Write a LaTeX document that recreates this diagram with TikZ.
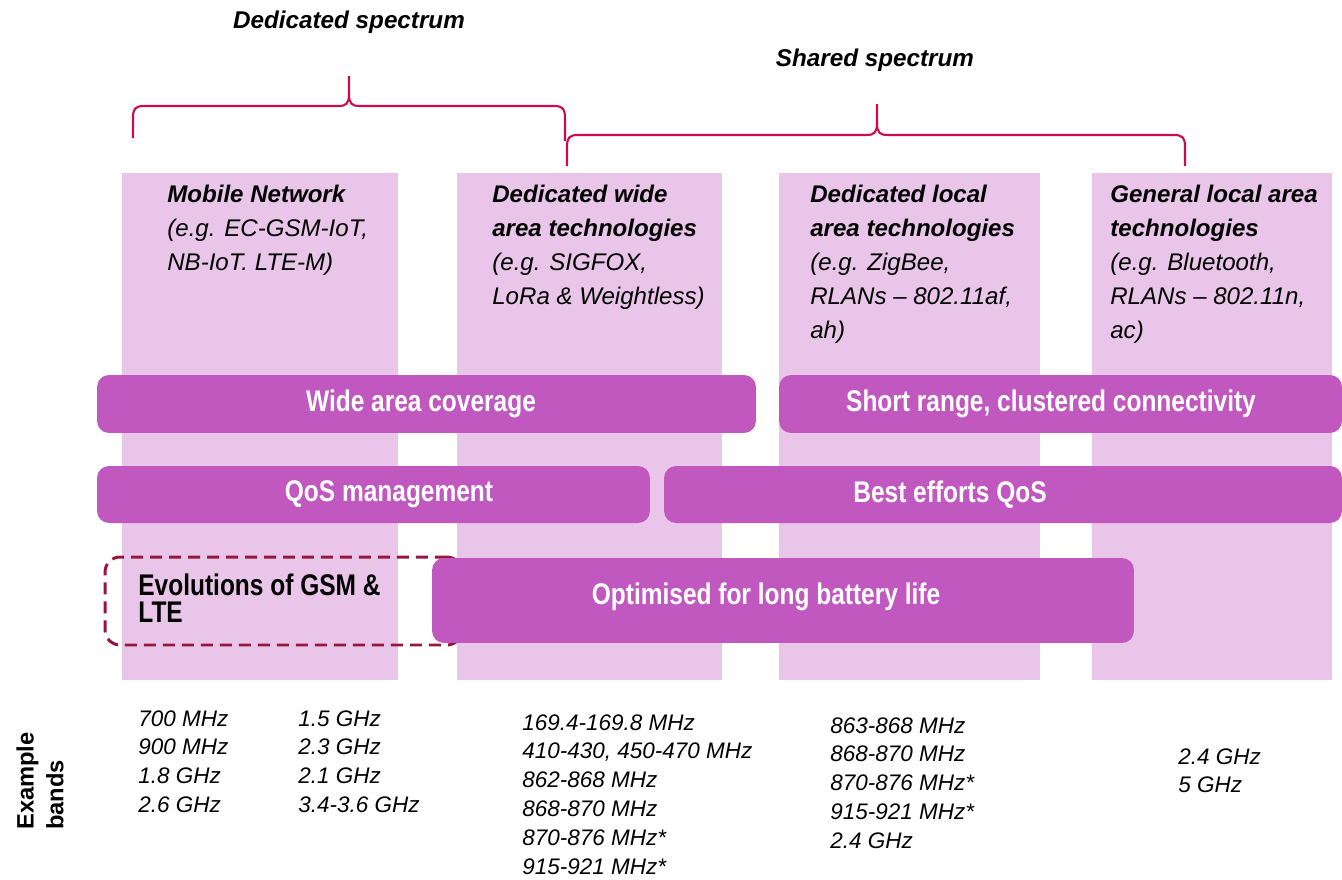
\documentclass[tikz,border=0pt]{standalone}
\usepackage{fontspec}
\setmainfont{Liberation Sans}
\newfontfamily\narrowfont[FakeStretch=0.82]{Liberation Sans}
\usepackage{tikz}
\usetikzlibrary{positioning}
\usepackage{xcolor}
\definecolor{colpink}{RGB}{233,198,233}
\definecolor{barpurple}{RGB}{192,88,192}
\definecolor{bracered}{RGB}{204,10,80}
\definecolor{dashred}{RGB}{150,22,62}
\tikzstyle{column} = [rectangle, fill=colpink, anchor=north west, minimum height=10.14cm, inner sep=0pt]
\tikzstyle{bar} = [rectangle, rounded corners=0.24cm, fill=barpurple, minimum height=1.16cm, inner sep=0pt]
\tikzstyle{bartext} = [text=white, inner sep=0pt, font=\narrowfont\bfseries\fontsize{17}{20}\selectfont]
\tikzstyle{header} = [anchor=north west, align=left, inner sep=0pt, font=\fontsize{13.7}{19.3}\selectfont\itshape]
\tikzstyle{bandlist} = [anchor=north west, align=left, inner sep=0pt, font=\fontsize{12.8}{16.4}\selectfont\itshape]
\tikzstyle{brace} = [thick, color=bracered, line width=1.2pt]

\begin{document}
\begin{tikzpicture}[x=0.02cm, y=-0.02cm]
\useasboundingbox (0,0) rectangle (1342,879);

% Spectrum titles and braces
\node (dedicated) [font=\fontsize{13.8}{16}\selectfont\bfseries\itshape] at (349,22) {Dedicated spectrum};
\node (shared) [font=\fontsize{13.8}{16}\selectfont\bfseries\itshape] at (875,60) {Shared spectrum};
\draw[brace] (133,138) -- (133,118) .. controls (133,109) and (135,106) .. (144,106) -- (338,106)
  .. controls (346,106) and (349,104) .. (349,94) -- (349,76);
\draw[brace] (349,94) .. controls (349,104) and (352,106) .. (360,106) -- (554,106)
  .. controls (563,106) and (565,109) .. (565,118) -- (565,141);
\draw[brace] (567,166) -- (567,147) .. controls (567,138) and (569,135) .. (578,135) -- (866,135)
  .. controls (874,135) and (877,133) .. (877,123) -- (877,104);
\draw[brace] (877,123) .. controls (877,133) and (880,135) .. (888,135) -- (1174,135)
  .. controls (1183,135) and (1185,138) .. (1185,147) -- (1185,166);

% Technology columns
\node (mobile) [column, minimum width=5.52cm] at (122,173) {};
\node (widearea) [column, minimum width=5.30cm] at (457,173) {};
\node (localarea) [column, minimum width=5.22cm] at (779,173) {};
\node (general) [column, minimum width=4.80cm] at (1092,173) {};

% Column headings
\node (mobile-head) [header] at (167,185) {\textbf{Mobile Network}\\(e.g. EC-GSM-IoT,\\NB-IoT. LTE-M)};
\node (widearea-head) [header] at (492,185) {\textbf{Dedicated wide}\\\textbf{area technologies}\\(e.g. SIGFOX,\\LoRa \& Weightless)};
\node (localarea-head) [header] at (810,185) {\textbf{Dedicated local}\\\textbf{area technologies}\\(e.g. ZigBee,\\RLANs -- 802.11af,\\ah)};
\node (general-head) [header] at (1110,185) {\textbf{General local area}\\\textbf{technologies}\\(e.g. Bluetooth,\\RLANs -- 802.11n,\\ac)};

% Characteristic bars
\node (coverage) [bar, minimum width=13.18cm] at (426.5,404) {};
\node (coverage-text) [bartext] at (421,404) {Wide area coverage};
\node (shortrange) [bar, minimum width=11.26cm] at (1060.5,404) {};
\node (shortrange-text) [bartext] at (1051,404) {Short range, clustered connectivity};
\node (qos) [bar, minimum width=11.06cm, minimum height=1.14cm] at (373.5,494.5) {};
\node (qos-text) [bartext] at (389,494.5) {QoS management};
\node (besteffort) [bar, minimum width=13.56cm, minimum height=1.14cm] at (1003,494.5) {};
\node (besteffort-text) [bartext] at (950,494.5) {Best efforts QoS};

% Evolutions box sits behind the battery bar
\node (evolutions) [draw=dashred, line width=1.7pt, dash pattern=on 0.24cm off 0.14cm, rounded corners=0.3cm, minimum width=7.14cm, minimum height=1.76cm, inner sep=0pt] at (283.5,601) {};
\node (evolutions-text) [anchor=north west, align=left, inner sep=0pt, font=\narrowfont\bfseries\fontsize{17}{15.5}\selectfont] at (138,573) {Evolutions of GSM \&\\LTE};
\node (battery) [bar, minimum width=14.04cm, minimum height=1.70cm] at (783,600.5) {};
\node (battery-text) [bartext] at (766,597) {Optimised for long battery life};

% Example bands
\node (bands-label) [rotate=90, align=left, font=\fontsize{13.5}{17}\selectfont\bfseries] at (40,781) {Example\\bands};
\node (mobile-bands-a) [bandlist] at (138,710) {700 MHz\\900 MHz\\1.8 GHz\\2.6 GHz};
\node (mobile-bands-b) [bandlist] at (298,710) {1.5 GHz\\2.3 GHz\\2.1 GHz\\3.4-3.6 GHz};
\node (widearea-bands) [bandlist] at (522,714) {169.4-169.8 MHz\\410-430, 450-470 MHz\\862-868 MHz\\868-870 MHz\\870-876 MHz*\\915-921 MHz*};
\node (localarea-bands) [bandlist] at (830,717) {863-868 MHz\\868-870 MHz\\870-876 MHz*\\915-921 MHz*\\2.4 GHz};
\node (general-bands) [bandlist] at (1178,748) {2.4 GHz\\5 GHz};
\end{tikzpicture}
\end{document}
